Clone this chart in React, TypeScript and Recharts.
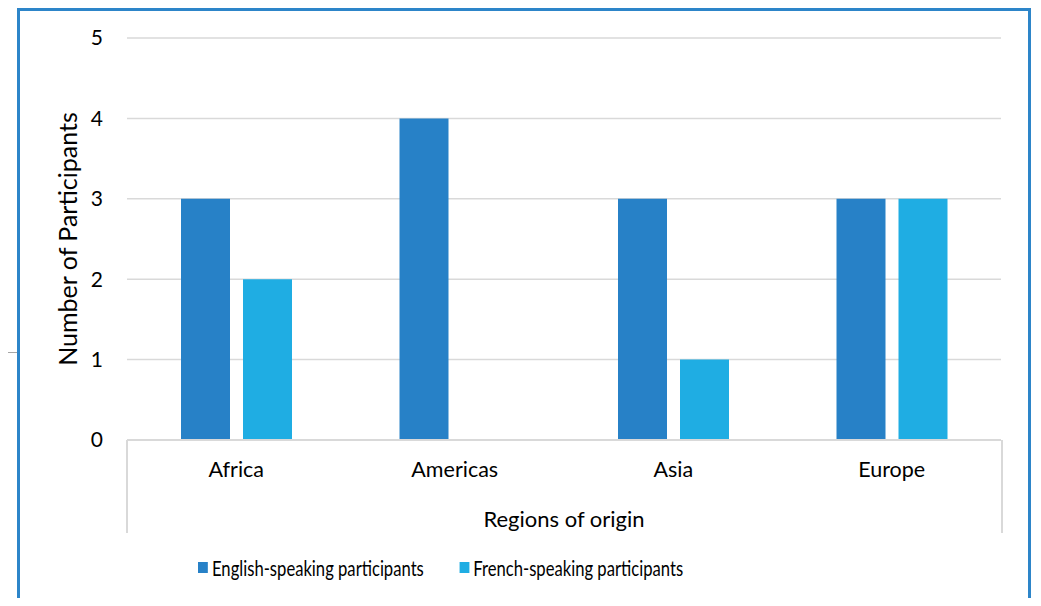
import React from "react";
import { BarChart, Bar, XAxis, YAxis, CartesianGrid } from "recharts";

const regions = ["Africa", "Americas", "Asia", "Europe"];
const englishSpeaking = [3, 4, 3, 3];
const frenchSpeaking = [2, 0, 1, 3];
const yTicks = [0, 1, 2, 3, 4, 5];
const seriesNames = ["English-speaking participants", "French-speaking participants"];
const seriesColors = ["#2781C7", "#1FADE3"];

const data = regions.map((r, i) => ({
  region: r,
  english: englishSpeaking[i],
  french: frenchSpeaking[i],
}));

const FONT = "Lato, 'Open Sans', sans-serif";

export default function App() {
  return (
    <div
      style={{
        position: "relative",
        width: 1041,
        height: 606,
        margin: -8,
        overflow: "hidden",
        background: "#fff",
        fontFamily: FONT,
      }}
    >
      {/* small connector line at left */}
      <div style={{ position: "absolute", left: 0, top: 352, width: 17, height: 1, background: "#a6a6a6" }} />
      {/* frame */}
      <div
        style={{
          position: "absolute",
          left: 17,
          top: 8,
          width: 1008,
          height: 640,
          border: "3px solid #2D85C9",
        }}
      />
      {/* category separators */}
      <div
        style={{
          position: "absolute",
          left: 126,
          top: 440,
          width: 873,
          height: 93,
          borderLeft: "2px solid #d9d9d9",
          borderRight: "2px solid #d9d9d9",
        }}
      />
      <div style={{ position: "absolute", left: 0, top: 0 }}>
        <BarChart
          width={1041}
          height={606}
          data={data}
          margin={{ top: 38, right: 40, left: 0, bottom: 0 }}
          barCategoryGap="24.6%"
          barGap={13}
        >
          <CartesianGrid vertical={false} stroke="#d9d9d9" strokeWidth={1.5} />
          <XAxis
            dataKey="region"
            height={166}
            tickLine={false}
            tickSize={0}
            tickMargin={22}
            axisLine={{ stroke: "#d9d9d9", strokeWidth: 2 }}
            tick={{ fill: "#000", fontSize: 21.5, fontFamily: FONT }}
            label={{
              value: "Regions of origin",
              position: "insideBottom",
              offset: 79,
              fill: "#000",
              fontSize: 22,
              fontFamily: FONT,
            }}
          />
          <YAxis
            width={127}
            domain={[0, 5]}
            ticks={yTicks}
            tickLine={false}
            axisLine={false}
            tickSize={0}
            tickMargin={24}
            tick={{ fill: "#000", fontSize: 21, fontFamily: FONT }}
            label={{
              value: "Number of Participants",
              angle: -90,
              position: "center",
              dx: 5,
              fill: "#000",
              fontSize: 25,
              fontFamily: FONT,
            }}
          />
          <Bar dataKey="english" name={seriesNames[0]} fill={seriesColors[0]} barSize={49} isAnimationActive={false} />
          <Bar dataKey="french" name={seriesNames[1]} fill={seriesColors[1]} barSize={49} isAnimationActive={false} />
        </BarChart>
      </div>
      {/* legend */}
      <div
        style={{
          position: "absolute",
          left: 198,
          top: 554,
          display: "flex",
          alignItems: "center",
          fontSize: 22,
          color: "#000",
          whiteSpace: "nowrap",
          transform: "scaleX(0.756)",
          transformOrigin: "0 50%",
        }}
      >
        {seriesNames.map((n, i) => (
          <div key={n} style={{ display: "flex", alignItems: "center", marginRight: i === 0 ? 47 : 0 }}>
            <span style={{ display: "inline-block", width: 13.2, height: 11, background: seriesColors[i], marginRight: 5.3 }} />
            <span>{n}</span>
          </div>
        ))}
      </div>
    </div>
  );
}
